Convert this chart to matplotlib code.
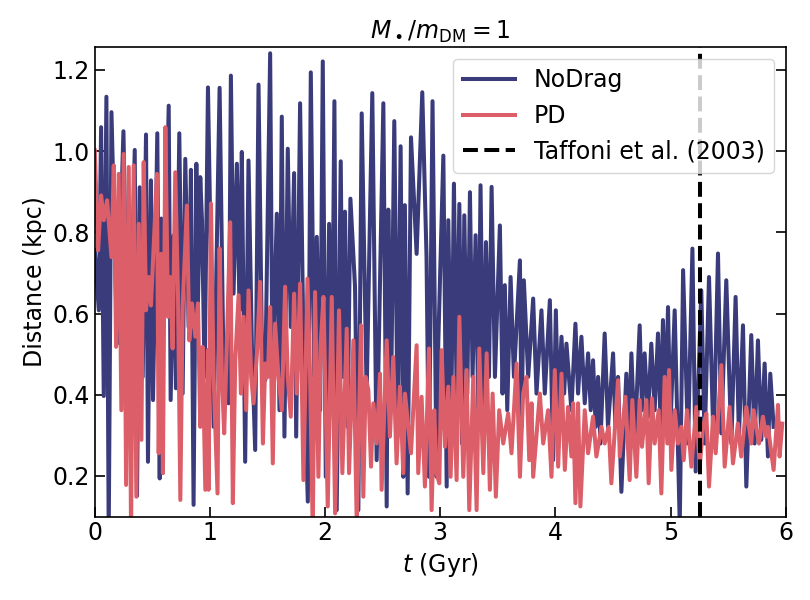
import matplotlib
matplotlib.use("Agg")
import matplotlib.pyplot as plt

t_nodrag = [0.0, 0.035, 0.055, 0.078, 0.101, 0.121, 0.145, 0.194, 0.249, 0.295, 0.347, 0.367, 0.390, 0.416, 0.445, 0.462, 0.488, 0.506, 0.543, 0.564, 0.578, 0.607, 0.642, 0.659, 0.685, 0.705, 0.734, 0.763, 0.786, 0.815, 0.835, 0.858, 0.882, 0.896, 0.916, 0.931, 0.954, 0.983,
            1.032, 1.084, 1.119, 1.162, 1.182, 1.205, 1.234, 1.257, 1.277, 1.306, 1.335, 1.364, 1.393, 1.422, 1.451, 1.48, 1.523, 1.543, 1.581, 1.604, 1.624, 1.647, 1.676, 1.702, 1.731, 1.749, 1.783, 1.812, 1.85, 1.876, 1.905, 1.928, 1.957, 1.98,
            2.006, 2.035, 2.058, 2.081, 2.101, 2.136, 2.153, 2.173, 2.196, 2.22, 2.26, 2.289, 2.318, 2.361, 2.41, 2.448, 2.506, 2.535, 2.549, 2.572, 2.601, 2.63, 2.656, 2.679, 2.693, 2.717, 2.746, 2.795, 2.844, 2.881, 2.902, 2.933, 2.968,
            2.983, 3.027, 3.056, 3.07, 3.096, 3.119, 3.142, 3.166, 3.189, 3.209, 3.235, 3.258, 3.281, 3.307, 3.33, 3.35, 3.374, 3.397, 3.423, 3.446, 3.475, 3.518, 3.541, 3.561, 3.582, 3.611, 3.64, 3.692, 3.706, 3.726, 3.764, 3.807, 3.836, 3.879, 3.908, 3.952, 3.98, 4.004,
            4.024, 4.053, 4.076, 4.096, 4.139, 4.174, 4.197, 4.226, 4.255, 4.284, 4.307, 4.327, 4.35, 4.371, 4.391, 4.428, 4.457, 4.501, 4.521, 4.544, 4.573, 4.616, 4.636, 4.66, 4.689, 4.732, 4.752, 4.775, 4.804, 4.833, 4.862, 4.891, 4.914, 4.934, 4.957, 4.978,
            4.999, 5.036, 5.08, 5.109, 5.152, 5.19, 5.218, 5.267, 5.296, 5.334, 5.374, 5.412, 5.441, 5.484, 5.528, 5.565, 5.594, 5.629, 5.658, 5.701, 5.73, 5.759, 5.788, 5.817, 5.846, 5.866, 5.895]
d_nodrag = [0.756, 0.608, 1.059, 0.397, 1.134, 0.05, 1.096, 0.526, 1.049, 0.321, 1.003, 0.151, 0.911, 0.444, 1.041, 0.235, 0.928, 0.387, 1.044, 0.194, 0.834, 0.608, 1.112, 0.387, 0.793, 0.416, 1.044, 0.403, 0.981, 0.567, 0.954, 0.129, 0.969, 0.629, 0.936, 0.830, 0.444, 1.157,
            0.321, 1.156, 0.444, 0.379, 1.186, 0.649, 0.969, 0.608, 0.998, 0.235, 0.977, 0.526, 0.264, 1.164, 0.526, 0.436, 1.241, 0.444, 0.846, 0.362, 1.085, 0.297, 1.006, 0.567, 0.946, 0.297, 1.118, 0.526, 0.137, 1.194, 0.444, 0.789, 0.362, 1.221,
            0.198, 0.821, 0.362, 1.123, 0.116, 0.975, 0.444, 0.851, 0.321, 0.883, 0.666, 0.116, 1.093, 0.403, 1.143, 0.239, 1.118, 0.125, 0.856, 0.362, 1.074, 0.321, 1.012, 0.198, 0.867, 0.157, 1.034, 0.747, 1.145, 0.739, 0.198, 1.123, 0.198,
            0.526, 0.989, 0.174, 0.83, 0.362, 0.92, 0.403, 0.87, 0.28, 0.842, 0.403, 0.899, 0.444, 0.793, 0.362, 0.916, 0.362, 0.776, 0.444, 0.912, 0.444, 0.817, 0.403, 0.67, 0.362, 0.69, 0.444, 0.731, 0.321, 0.682, 0.444, 0.637, 0.403, 0.608, 0.403, 0.633, 0.239, 0.608,
            0.362, 0.543, 0.403, 0.526, 0.362, 0.575, 0.403, 0.543, 0.379, 0.502, 0.362, 0.485, 0.321, 0.444, 0.28, 0.551, 0.321, 0.502, 0.321, 0.444, 0.161, 0.452, 0.28, 0.502, 0.28, 0.571, 0.362, 0.502, 0.346, 0.526, 0.362, 0.551, 0.321, 0.584, 0.362, 0.616,
            0.321, 0.608, 0.08, 0.707, 0.28, 0.76, 0.211, 0.657, 0.28, 0.69, 0.272, 0.748, 0.305, 0.682, 0.28, 0.641, 0.297, 0.571, 0.174, 0.547, 0.28, 0.534, 0.289, 0.477, 0.248, 0.452, 0.321]

t_pd = [0.0, 0.029, 0.055, 0.078, 0.107, 0.145, 0.165, 0.185, 0.208, 0.231, 0.251, 0.272, 0.295, 0.315, 0.338, 0.361, 0.382, 0.405, 0.425, 0.445, 0.468, 0.488, 0.512, 0.54, 0.555, 0.575, 0.592, 0.613, 0.636, 0.656, 0.676, 0.699, 0.723, 0.743, 0.763, 0.8, 0.821, 0.844, 0.873, 0.896, 0.916, 0.936, 0.96, 0.983,
        0.988, 1.009, 1.032, 1.066, 1.084, 1.104, 1.124, 1.147, 1.176, 1.199, 1.22, 1.249, 1.269, 1.292, 1.315, 1.335, 1.358, 1.379, 1.408, 1.436, 1.46, 1.48, 1.503, 1.523, 1.546, 1.566, 1.595, 1.624, 1.653, 1.676, 1.702, 1.731, 1.754, 1.783, 1.812, 1.847, 1.87, 1.893, 1.913, 1.942, 1.962, 1.986,
        2.023, 2.058, 2.087, 2.121, 2.15, 2.188, 2.208, 2.246, 2.275, 2.312, 2.332, 2.353, 2.376, 2.399, 2.419, 2.448, 2.477, 2.491, 2.535, 2.563, 2.592, 2.621, 2.65, 2.679, 2.694, 2.746, 2.795, 2.809, 2.838, 2.867, 2.902, 2.925, 2.948, 2.968,
        2.992, 3.012, 3.041, 3.07, 3.09, 3.114, 3.142, 3.166, 3.2, 3.229, 3.252, 3.287, 3.316, 3.339, 3.374, 3.403, 3.431, 3.455, 3.483, 3.512, 3.547, 3.59, 3.619, 3.663, 3.692, 3.72, 3.749, 3.773, 3.793, 3.807, 3.865, 3.894, 3.937, 3.966,
        3.995, 4.024, 4.053, 4.082, 4.11, 4.139, 4.154, 4.174, 4.197, 4.217, 4.255, 4.284, 4.327, 4.356, 4.4, 4.428, 4.463, 4.486, 4.544, 4.559, 4.608, 4.645, 4.668, 4.703, 4.732, 4.752, 4.79, 4.81, 4.839, 4.862, 4.897, 4.92, 4.949, 4.972,
        4.987, 5.007, 5.036, 5.065, 5.094, 5.114, 5.143, 5.181, 5.224, 5.253, 5.282, 5.311, 5.334, 5.369, 5.392, 5.441, 5.47, 5.513, 5.542, 5.585, 5.614, 5.658, 5.701, 5.721, 5.768, 5.802, 5.831, 5.846, 5.895, 5.933, 5.947, 5.97]
d_pd = [1.002, 0.756, 0.891, 0.83, 0.879, 0.739, 0.965, 0.518, 0.944, 0.362, 0.993, 0.178, 0.961, 0.05, 0.965, 0.149, 0.821, 0.289, 0.973, 0.608, 0.69, 0.62, 0.772, 0.944, 0.256, 0.747, 0.207, 1.059, 0.592, 0.69, 0.514, 0.948, 0.641, 0.141, 0.616, 0.866, 0.534, 0.625, 0.543, 0.625, 0.321, 0.518, 0.166, 0.51,
        0.166, 0.871, 0.444, 0.157, 0.76, 0.444, 0.305, 0.526, 0.825, 0.133, 0.485, 0.645, 0.403, 0.592, 0.362, 0.657, 0.444, 0.379, 0.502, 0.678, 0.28, 0.477, 0.444, 0.616, 0.231, 0.575, 0.444, 0.362, 0.666, 0.444, 0.346, 0.649, 0.403, 0.674, 0.19, 0.686, 0.444, 0.06, 0.653, 0.198, 0.526, 0.641,
        0.125, 0.641, 0.108, 0.608, 0.207, 0.563, 0.207, 0.534, 0.08, 0.571, 0.149, 0.444, 0.411, 0.223, 0.379, 0.28, 0.452, 0.166, 0.534, 0.297, 0.493, 0.231, 0.42, 0.207, 0.403, 0.256, 0.522, 0.207, 0.395, 0.174, 0.514, 0.116, 0.362, 0.207,
        0.182, 0.51, 0.272, 0.42, 0.198, 0.444, 0.19, 0.592, 0.198, 0.461, 0.116, 0.444, 0.116, 0.514, 0.207, 0.502, 0.166, 0.403, 0.149, 0.362, 0.28, 0.354, 0.256, 0.477, 0.198, 0.403, 0.444, 0.239, 0.379, 0.198, 0.403, 0.28, 0.362, 0.198,
        0.461, 0.223, 0.452, 0.215, 0.37, 0.248, 0.379, 0.133, 0.379, 0.125, 0.362, 0.256, 0.346, 0.248, 0.321, 0.28, 0.321, 0.182, 0.436, 0.248, 0.395, 0.19, 0.387, 0.198, 0.387, 0.272, 0.387, 0.182, 0.391, 0.28, 0.362, 0.157, 0.444, 0.28,
        0.461, 0.215, 0.362, 0.28, 0.321, 0.239, 0.362, 0.223, 0.37, 0.223, 0.321, 0.354, 0.174, 0.346, 0.256, 0.473, 0.223, 0.37, 0.231, 0.329, 0.248, 0.37, 0.28, 0.362, 0.28, 0.346, 0.297, 0.321, 0.215, 0.375, 0.248, 0.329]

t_taffoni = 5.26
labels = ["NoDrag", "PD", "Taffoni et al. (2003)"]
title = r"$M_\bullet/m_{\rm DM}=1$"

plt.rcParams['font.family'] = ['DejaVu Sans']
plt.rcParams['font.size'] = 17

fig = plt.figure(figsize=(8.1, 6.0), dpi=100)
ax = fig.add_axes([0.117, 0.139, 0.853, 0.783])

ax.plot(t_nodrag, d_nodrag, color="#3a3b7b", lw=2.9, label=labels[0])
ax.plot(t_pd, d_pd, color="#dc5e68", lw=2.9, label=labels[1])
ax.axvline(t_taffoni, color="black", ls="--", lw=2.9, label=labels[2])

ax.set_xlim(0, 6)
ax.set_ylim(0.1, 1.257)
ax.set_xticks([0, 1, 2, 3, 4, 5, 6])
ax.set_yticks([0.2, 0.4, 0.6, 0.8, 1.0, 1.2])
ax.tick_params(direction="in", length=7, width=1.2, right=True, top=False, labelsize=17)
ax.set_xlabel(r"$t$ (Gyr)", fontsize=17)
ax.set_ylabel("Distance (kpc)", fontsize=17)
ax.set_title(title, fontsize=17)
for s in ax.spines.values():
    s.set_linewidth(1.2)

ax.legend(loc="upper right", fontsize=17, handlelength=2.2)

fig.savefig("out.png", dpi=100)
